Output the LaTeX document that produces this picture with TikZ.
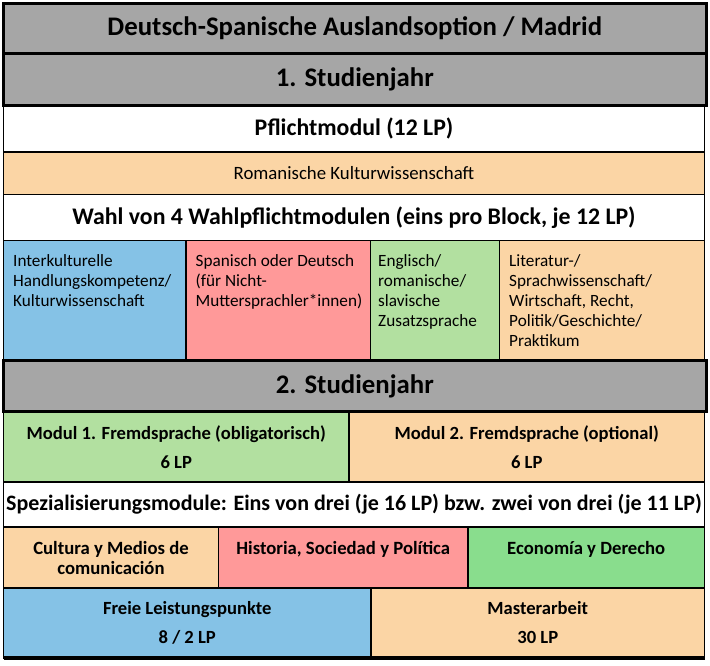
\documentclass[tikz,border=0pt]{standalone}
\usepackage{fontspec}
\setmainfont{Carlito}
\usetikzlibrary{positioning}
\definecolor{jahrgray}{RGB}{166,166,166}
\definecolor{peach}{RGB}{251,213,165}
\definecolor{skyblue}{RGB}{133,194,230}
\definecolor{rosered}{RGB}{255,153,153}
\definecolor{palegreen}{RGB}{178,224,160}
\definecolor{leafgreen}{RGB}{137,221,141}

\begin{document}
\begin{tikzpicture}[x=1pt, y=-1pt,
  box/.style={draw=black, line width=1.8pt, inner sep=0pt, outer sep=0pt,
              anchor=north west, align=center},
  jahr/.style={box, fill=jahrgray, line width=3pt,
               font=\bfseries\fontsize{26.8}{30}\selectfont},
  head/.style={box, fill=white, font=\bfseries\fontsize{23.8}{27}\selectfont},
  spalte/.style={inner sep=0pt, anchor=north west, align=left,
                 font=\fontsize{17.2}{20}\selectfont},
  modul/.style={box, font=\bfseries\fontsize{18.6}{29}\selectfont},
  spez/.style={inner sep=0pt, anchor=north, align=center,
               font=\bfseries\fontsize{18.7}{19.5}\selectfont},
]
\useasboundingbox (0,0) rectangle (710,665);

%% 1. Studienjahr
\node[head, minimum width=701pt, minimum height=46.5pt] (pflicht) at (3.5,105.5) {Pflichtmodul (12 LP)};
\node[box, fill=peach, minimum width=701pt, minimum height=42.5pt,
      font=\fontsize{18.8}{22}\selectfont] (rom) at (3.5,152) {Romanische Kulturwissenschaft};
\node[head, minimum width=701pt, minimum height=46pt] (wahl) at (3.5,194.5)
      {Wahl von 4 Wahlpflichtmodulen (eins pro Block, je 12 LP)};

\node[box, fill=skyblue, minimum width=182.5pt, minimum height=120pt] (c1) at (3.5,240.5) {};
\node[box, fill=rosered, minimum width=184.5pt, minimum height=120pt] (c2) at (186,240.5) {};
\node[box, fill=palegreen, minimum width=129pt, minimum height=120pt] (c3) at (370.5,240.5) {};
\node[box, fill=peach, minimum width=205pt, minimum height=120pt] (c4) at (499.5,240.5) {};

\node[spalte, below right=13.5pt and 9.5pt of c1.north west] (t1)
  {Interkulturelle\\Handlungskompetenz/\\Kulturwissenschaft};
\node[spalte, below right=13.5pt and 9.5pt of c2.north west] (t2)
  {Spanisch oder Deutsch\\(für Nicht-\\Muttersprachler*innen)};
\node[spalte, below right=13.5pt and 7.5pt of c3.north west] (t3)
  {Englisch/\\romanische/\\slavische\\Zusatzsprache};
\node[spalte, below right=13.5pt and 9.5pt of c4.north west] (t4)
  {Literatur-/\\Sprachwissenschaft/\\Wirtschaft, Recht,\\Politik/Geschichte/\\Praktikum};

%% 2. Studienjahr
\node[modul, fill=palegreen, minimum width=345.5pt, minimum height=70.5pt] (m1) at (3.5,411.5)
  {Modul 1. Fremdsprache (obligatorisch)\\6 LP};
\node[modul, fill=peach, minimum width=355.5pt, minimum height=70.5pt] (m2) at (349,411.5)
  {Modul 2. Fremdsprache (optional)\\6 LP};
\node[box, fill=white, minimum width=701pt, minimum height=45pt,
      font=\bfseries\fontsize{22}{25}\selectfont] (spez) at (3.5,482)
  {Spezialisierungsmodule: Eins von drei (je 16 LP) bzw. zwei von drei (je 11 LP)};

\node[box, fill=peach, minimum width=215pt, minimum height=61pt] (s1) at (3.5,527) {};
\node[box, fill=rosered, minimum width=249.5pt, minimum height=61pt] (s2) at (218.5,527) {};
\node[box, fill=leafgreen, minimum width=236.5pt, minimum height=61pt] (s3) at (468,527) {};
\node[spez, below=14.5pt of s1.north] (u1) {Cultura y Medios de\\comunicación};
\node[spez, below=14.5pt of s2.north] (u2) {Historia, Sociedad y Política};
\node[spez, below=14.5pt of s3.north] (u3) {Economía y Derecho};

\node[modul, fill=skyblue, minimum width=367.5pt, minimum height=70pt] (f1) at (3.5,588)
  {Freie Leistungspunkte\\8 / 2 LP};
\node[modul, fill=peach, minimum width=333.5pt, minimum height=70pt] (f2) at (371,588)
  {Masterarbeit\\30 LP};
\draw[line width=3.5pt] (f1.south west) -- (f2.south east);

%% Jahreskoepfe
\node[jahr, minimum width=702.5pt, minimum height=50pt] (titel) at (3.5,3.5)
  {Deutsch-Spanische Auslandsoption / Madrid};
\node[jahr, minimum width=702.5pt, minimum height=52pt] (jahr1) at (3.5,53.5) {1. Studienjahr};
\node[jahr, minimum width=702.5pt, minimum height=51pt] (jahr2) at (3.5,360.5) {2. Studienjahr};

\end{tikzpicture}
\end{document}
